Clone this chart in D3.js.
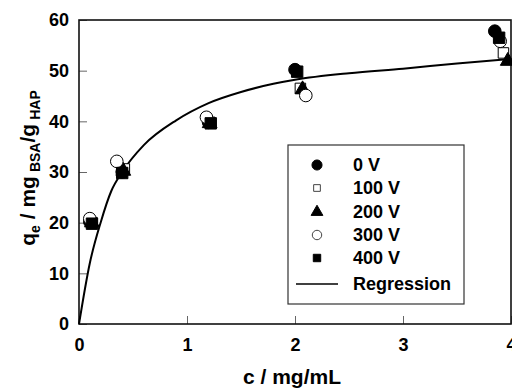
<!DOCTYPE html>
<html>
<head>
<meta charset="utf-8">
<script src="https://cdn.jsdelivr.net/npm/d3@7"></script>
<style>
  body { margin: 0; background: #fff; }
  text { font-family: "Liberation Sans", Arial, sans-serif; font-weight: bold; fill: #000; }
</style>
</head>
<body>
<div class="chart"></div>
<script>
// Data
const seriesNames = ["0 V", "100 V", "200 V", "300 V", "400 V"];
const c0 = [0.10, 0.40, 1.20, 2.00, 3.85];
const q0 = [20.2, 30.0, 39.8, 50.2, 57.8];
const c100 = [0.12, 0.42, 1.21, 2.05, 3.93];
const q100 = [20.0, 30.6, 39.8, 46.5, 53.5];
const c200 = [0.12, 0.41, 1.21, 2.07, 3.97];
const q200 = [20.0, 30.2, 39.6, 46.3, 51.9];
const c300 = [0.10, 0.35, 1.18, 2.10, 3.90];
const q300 = [20.8, 32.1, 40.8, 45.1, 55.8];
const c400 = [0.12, 0.40, 1.22, 2.02, 3.89];
const q400 = [19.8, 29.8, 39.6, 49.8, 56.5];

// regression curve
const regC = [0, 0.1, 0.2, 0.3, 0.4, 0.6, 0.9, 1.2, 1.5, 1.8, 2.0, 2.5, 3.0, 3.5, 4.0];
const regQ = [0, 12.0, 20.0, 26.3, 30.0, 35.3, 40.2, 43.6, 45.8, 47.4, 48.2, 49.5, 50.4, 51.4, 52.3];

const xTicks = [0, 1, 2, 3, 4];
const yTicks = [0, 10, 20, 30, 40, 50, 60];

const svgWidth = 512;
const svgHeight = 390;
const margin = { top: 20, right: 1, bottom: 66, left: 79 };
const width = svgWidth - margin.left - margin.right;
const height = svgHeight - margin.top - margin.bottom;

const svg = d3.select(".chart")
  .append("svg")
  .attr("width", svgWidth)
  .attr("height", svgHeight);

const chartGroup = svg.append("g")
  .attr("transform", `translate(${margin.left}, ${margin.top})`);

const x = d3.scaleLinear().domain([0, 4]).range([0, width]);
const y = d3.scaleLinear().domain([0, 60]).range([height, 0]);

// axes with inward ticks
const leftAxis = d3.axisLeft(y).tickValues(yTicks).tickFormat(d3.format("d"))
  .tickSizeInner(-8).tickSizeOuter(0).tickPadding(10);
const bottomAxis = d3.axisBottom(x).tickValues(xTicks).tickFormat(d3.format("d"))
  .tickSizeInner(-8).tickSizeOuter(0).tickPadding(14);

const yAxisG = chartGroup.append("g").call(leftAxis);
const xAxisG = chartGroup.append("g").attr("transform", `translate(0, ${height})`).call(bottomAxis);

[yAxisG, xAxisG].forEach(g => {
  g.select(".domain").remove();
  g.selectAll(".tick line").attr("stroke", "#666").attr("stroke-width", 1);
  g.selectAll(".tick text")
    .style("font-size", "18px")
    .style("font-family", "Liberation Sans, Arial, sans-serif")
    .style("font-weight", "bold");
});

// frame
chartGroup.append("rect")
  .attr("x", 0).attr("y", 0)
  .attr("width", width).attr("height", height)
  .attr("fill", "none")
  .attr("stroke", "#111")
  .attr("stroke-width", 1.6);

// regression line
const regData = regC.map((c, i) => ({ c: c, q: regQ[i] }));
const line = d3.line()
  .x(d => x(d.c))
  .y(d => y(d.q))
  .curve(d3.curveMonotoneX);

chartGroup.append("path")
  .datum(regData)
  .attr("d", line)
  .attr("fill", "none")
  .attr("stroke", "#000")
  .attr("stroke-width", 2);

// marker drawing
const markerStyles = [
  { type: d3.symbolCircle, size: 125, fill: "#000", stroke: "#000" },
  { type: d3.symbolSquare, size: 110, fill: "#fff", stroke: "#000" },
  { type: d3.symbolTriangle, size: 95, fill: "#000", stroke: "#000" },
  { type: d3.symbolCircle, size: 125, fill: "#fff", stroke: "#000" },
  { type: d3.symbolSquare, size: 130, fill: "#000", stroke: "#000" }
];
const legendSizes = [80, 45, 60, 70, 55];

const allC = [c0, c100, c200, c300, c400];
const allQ = [q0, q100, q200, q300, q400];

allC.forEach((cs, s) => {
  const st = markerStyles[s];
  const pts = cs.map((c, i) => ({ c: c, q: allQ[s][i] }));
  chartGroup.append("g")
    .selectAll("path")
    .data(pts)
    .enter()
    .append("path")
    .attr("transform", d => `translate(${x(d.c)}, ${y(d.q)})`)
    .attr("d", d3.symbol().type(st.type).size(st.size))
    .attr("fill", st.fill)
    .attr("stroke", st.stroke)
    .attr("stroke-width", 1);
});

// legend
const legend = svg.append("g").attr("transform", "translate(288, 145)");
legend.append("rect")
  .attr("width", 176).attr("height", 159)
  .attr("fill", "#fff")
  .attr("stroke", "#333")
  .attr("stroke-width", 1.2);

const rowY = [20, 43, 67, 90, 113, 139];
seriesNames.forEach((name, i) => {
  const st = markerStyles[i];
  legend.append("path")
    .attr("transform", `translate(29, ${rowY[i]})`)
    .attr("d", d3.symbol().type(st.type).size(legendSizes[i]))
    .attr("fill", st.fill)
    .attr("stroke", st.fill === "#fff" ? "#444" : "#000")
    .attr("stroke-width", 1);
  legend.append("text")
    .attr("x", 65)
    .attr("y", rowY[i])
    .attr("dy", "0.36em")
    .style("font-size", "18px")
    .text(name);
});
legend.append("line")
  .attr("x1", 8).attr("x2", 50)
  .attr("y1", rowY[5]).attr("y2", rowY[5])
  .attr("stroke", "#000")
  .attr("stroke-width", 1.5);
legend.append("text")
  .attr("x", 65)
  .attr("y", rowY[5])
  .attr("dy", "0.36em")
  .style("font-size", "18px")
  .text("Regression");

// x axis title
svg.append("text")
  .attr("x", margin.left + width / 2 - 3)
  .attr("y", 384)
  .attr("text-anchor", "middle")
  .style("font-size", "21px")
  .text("c / mg/mL");

// y axis title with subscripts
const yTitle = svg.append("text")
  .attr("transform", "translate(35, 168) rotate(-90)")
  .attr("text-anchor", "middle")
  .style("font-size", "21px");
yTitle.append("tspan").text("q");
yTitle.append("tspan").attr("dy", 5).style("font-size", "14px").text("e");
yTitle.append("tspan").attr("dy", -5).text(" / mg");
yTitle.append("tspan").attr("dx", 4).attr("dy", 5).style("font-size", "14px").text("BSA");
yTitle.append("tspan").attr("dy", -5).text("/g");
yTitle.append("tspan").attr("dx", 4).attr("dy", 5).style("font-size", "14px").text("HAP");
</script>
</body>
</html>
